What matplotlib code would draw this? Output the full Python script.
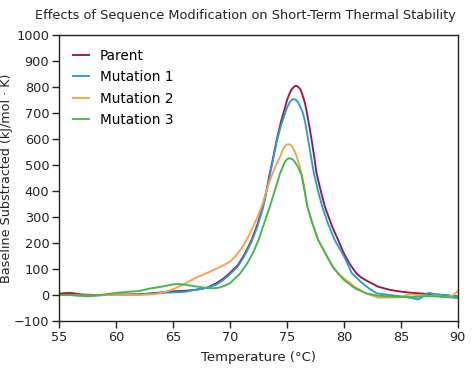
import matplotlib
matplotlib.use("Agg")
import matplotlib.pyplot as plt

title = "Effects of Sequence Modification on Short-Term Thermal Stability"
x_label = "Temperature (°C)"
y_label = "Baseline Substracted (kJ/mol · K)"

parent_t = [55, 55.5, 56, 56.5, 57, 58, 59, 60, 61, 62, 63, 64, 65, 66, 67, 68, 68.8, 69.4, 70, 70.7, 71.3, 71.9, 72.4, 72.9, 73.2, 73.5, 73.8, 74.1, 74.5, 74.8, 75, 75.2, 75.4, 75.6, 75.8, 76.0, 76.2, 76.4, 76.6, 76.8, 77, 77.17, 77.4, 77.6, 78, 78.33, 78.7, 79, 79.5, 80, 80.5, 81.1, 81.5, 82, 83, 84, 85, 86, 87, 88, 89, 90]
parent_v = [5, 7, 8, 5, 2, 0, 0, 2, 2, 3, 6, 10, 14, 16, 20, 28, 45, 62, 85, 115, 158, 211, 270, 340, 400, 468, 530, 596, 670, 715, 748, 772, 790, 800, 805, 800, 790, 765, 735, 690, 640, 596, 530, 468, 395, 340, 295, 260, 211, 160, 120, 83, 68, 55, 32, 20, 13, 8, 5, 2, -2, -5]

m1_t = [55, 56, 57, 58, 59, 60, 61, 62, 63, 64, 65, 66, 67, 68, 68.8, 69.4, 70, 70.7, 71.3, 71.9, 72.4, 72.9, 73.2, 73.5, 73.8, 74.1, 74.5, 74.8, 75, 75.3, 75.5, 75.64, 75.8, 76, 76.2, 76.4, 76.6, 76.87, 77.1, 77.37, 77.7, 78.1, 78.6, 79.2, 80, 80.7, 81.5, 82.2, 82.9, 84, 85, 86, 86.5, 86.8, 87.2, 87.5, 88, 89, 90]
m1_v = [0, 0, -2, -3, 0, 0, 0, 2, 5, 8, 10, 12, 20, 28, 40, 57, 80, 110, 152, 205, 262, 335, 395, 460, 525, 590, 655, 695, 720, 745, 752, 753, 750, 740, 722, 700, 665, 596, 535, 468, 405, 340, 275, 211, 150, 83, 50, 25, 6, 0, -5, -12, -17, -10, 5, 8, 3, 0, -8]

m2_t = [55, 56, 57, 58, 59, 60, 61, 62, 63, 63.4, 64, 65, 66, 66.9, 68, 69, 70, 70.5, 71, 71.46, 72, 72.4, 72.78, 73.1, 73.5, 74, 74.4, 74.6, 74.8, 74.95, 75.1, 75.25, 75.4, 75.6, 75.8, 76.0, 76.14, 76.5, 76.8, 77.2, 77.75, 78.5, 79.06, 79.5, 80.2, 81, 82, 83, 84, 85, 85.5, 86, 87, 88, 89, 89.5, 90]
m2_v = [0, 0, -2, -2, 0, 0, 0, 0, 2, 3, 8, 22, 42, 64, 85, 105, 128, 150, 178, 211, 260, 298, 340, 385, 440, 495, 532, 555, 570, 578, 580, 579, 575, 560, 540, 512, 494, 420, 340, 280, 211, 150, 109, 80, 58, 30, 5, -10, -10, -8, 0, 2, -3, -2, -8, -3, 15]

m3_t = [55, 56, 57, 57.5, 58, 59, 60, 61, 62, 63, 64, 65, 65.5, 66, 67, 68, 68.7, 69, 69.5, 70, 70.3, 70.9, 71.5, 72, 72.5, 73, 73.5, 74, 74.4, 74.8, 75, 75.2, 75.4, 75.6, 75.8, 76, 76.3, 76.8, 77.2, 77.75, 78.5, 79, 80, 81, 82, 83, 84, 85, 86, 87, 88, 89, 90]
m3_v = [0, 0, -3, -5, -3, 2, 8, 12, 15, 25, 32, 41, 42, 40, 33, 27, 26, 28, 35, 45, 58, 83, 120, 160, 211, 275, 340, 410, 468, 510, 522, 526, 524, 518, 505, 490, 460, 340, 280, 211, 150, 109, 58, 25, 6, -3, -5, -8, -8, -5, -5, -8, -12]

series = [
    ("Parent", parent_t, parent_v, "#A3133F"),
    ("Mutation 1", m1_t, m1_v, "#1FA0D8"),
    ("Mutation 2", m2_t, m2_v, "#F9A04B"),
    ("Mutation 3", m3_t, m3_v, "#3DB84B"),
]

x_ticks = [55, 60, 65, 70, 75, 80, 85, 90]
y_ticks = [-100, 0, 100, 200, 300, 400, 500, 600, 700, 800, 900, 1000]

plt.rcParams['font.family'] = ['DejaVu Sans']
fig = plt.figure(figsize=(4.73, 3.75), dpi=100)
ax = fig.add_axes([0.1247, 0.144, 0.968 - 0.1247, 0.9067 - 0.144])

for name, t, v, c in series:
    ax.plot(t, v, color=c, lw=1.35, label=name, solid_joinstyle='round')

ax.set_xlim(55, 90)
ax.set_ylim(-100, 1000)
ax.set_xticks(x_ticks)
ax.set_yticks(y_ticks)
ax.tick_params(direction='out', length=5, width=1, labelsize=9.3, colors='#222222', pad=2)
for s in ax.spines.values():
    s.set_linewidth(1.0)
    s.set_color('#222222')

ax.set_xlabel(x_label, fontsize=9.5, color='#222222', labelpad=5)
ax.set_ylabel(y_label, fontsize=9.2, color='#222222')
ax.yaxis.set_label_coords(-0.115, 0.5)
fig.text(0.518, 0.96, title, ha='center', va='center', fontsize=9.3, color='#222222')

leg = ax.legend(loc='upper left', frameon=False, fontsize=9.8, handlelength=1.2,
                handletextpad=0.8, labelspacing=0.55, borderaxespad=0.6)

fig.savefig("out.png", dpi=100)
